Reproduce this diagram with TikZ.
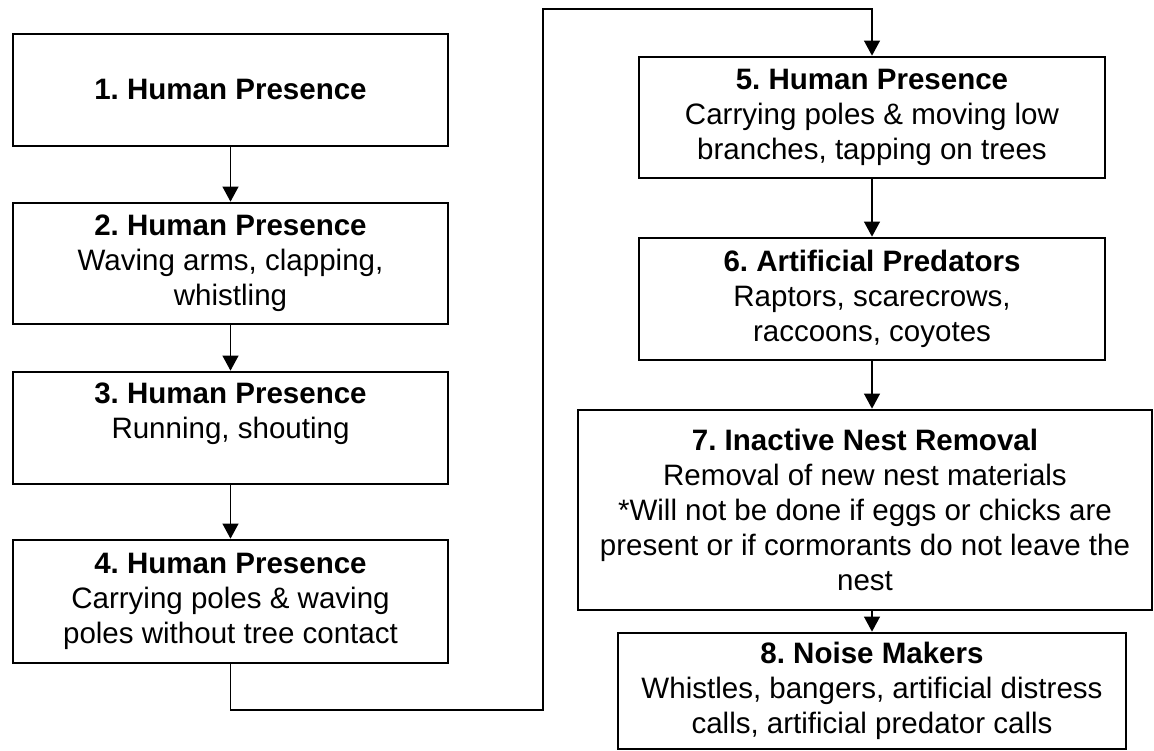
\documentclass[tikz,border=0pt]{standalone}
\usepackage{fontspec}
\setmainfont{Liberation Sans}
\frenchspacing
\usetikzlibrary{arrows.meta}
\tikzset{
  stage/.style={draw=black,line width=1.5pt,align=center,inner sep=2pt,
    font=\fontsize{16.8}{20}\selectfont},
  flow/.style={line width=0.75pt,-{Triangle[width=9pt,length=8.5pt]}}
}

\begin{document}
\begin{tikzpicture}
\useasboundingbox (0,0) rectangle (23.08,15.02);
\node[stage,minimum width=8.70cm,minimum height=2.24cm] (s1) at (4.61,13.22) {\textbf{1. Human Presence}};
\node[stage,minimum width=8.70cm,minimum height=2.42cm] (s2) at (4.61,9.75) {\textbf{2. Human Presence}\\Waving arms, clapping,\\whistling};
\node[stage,minimum width=8.70cm,minimum height=2.24cm] (s3) at (4.61,6.46) {\textbf{3. Human Presence}\\Running, shouting\\~};
\node[stage,minimum width=8.70cm,minimum height=2.46cm] (s4) at (4.61,2.99) {\textbf{4. Human Presence}\\Carrying poles \& waving\\poles without tree contact};
\node[stage,minimum width=9.32cm,minimum height=2.42cm] (s5) at (17.44,12.67) {\textbf{5. Human Presence}\\Carrying poles \& moving low\\branches, tapping on trees};
\node[stage,minimum width=9.32cm,minimum height=2.44cm] (s6) at (17.44,9.04) {\textbf{6. Artificial Predators}\\Raptors, scarecrows,\\raccoons, coyotes};
\node[stage,minimum width=11.48cm,minimum height=4.00cm] (s7) at (17.30,4.82) {\textbf{7. Inactive Nest Removal}\\Removal of new nest materials\\*Will not be done if eggs or chicks are\\present or if cormorants do not leave the\\nest};
\node[stage,minimum width=10.16cm,minimum height=2.32cm] (s8) at (17.44,1.20) {\textbf{8. Noise Makers}\\Whistles, bangers, artificial distress\\calls, artificial predator calls};
\coordinate (c1) at (10.86,0.82);
\coordinate (c2) at (10.86,14.84);
\draw[flow] (s1) -- (s2);
\draw[flow] (s2) -- (s3);
\draw[flow] (s3) -- (s4);
\draw[flow] (s4.south) |- (c1) -- (c2) -| (s5.north);
\draw[flow] (s5) -- (s6);
\draw[flow] (s6.south) -- (s6.south |- s7.north);
\draw[flow] (s8.north |- s7.south) -- (s8.north);
\end{tikzpicture}
\end{document}
